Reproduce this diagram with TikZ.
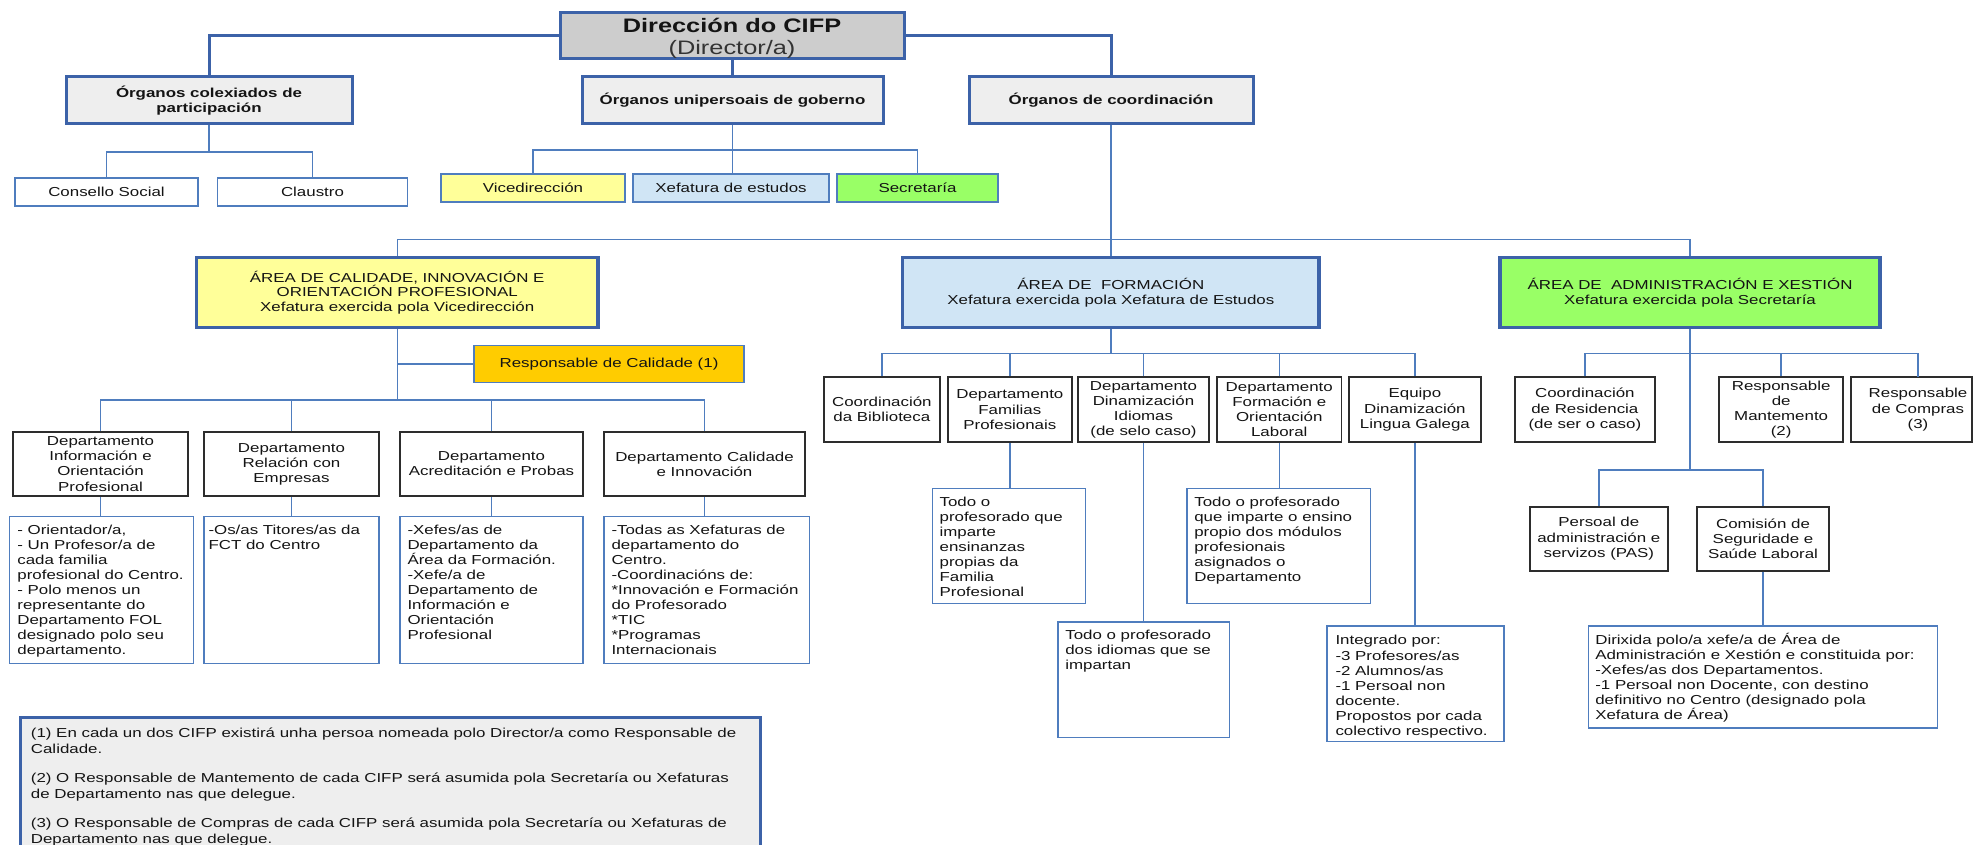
\documentclass[tikz,border=0pt]{standalone}
\usepackage{fontspec}
\setmainfont{Liberation Sans}[FakeStretch=1.3]
\usetikzlibrary{calc}
\definecolor{blueD}{RGB}{60,98,168}
\definecolor{blueL}{RGB}{79,125,190}
\definecolor{edgeK}{RGB}{45,45,45}
\definecolor{fillG}{RGB}{205,205,205}
\definecolor{fillL}{RGB}{238,238,238}
\definecolor{fillY}{RGB}{255,255,153}
\definecolor{fillB}{RGB}{208,229,245}
\definecolor{fillGr}{RGB}{153,255,102}
\definecolor{fillO}{RGB}{255,204,0}
\definecolor{txt}{RGB}{20,20,20}
\newcommand\myfs{\fontsize{13}{15.1}\selectfont}
\newcommand\mybox[7]{%
  \pgfmathsetmacro\myCX{(#3+#5)/2}%
  \pgfmathsetmacro\myCY{(#4+#6)/2}%
  \pgfmathsetmacro\myW{#5-#3}%
  \pgfmathsetmacro\myH{#6-#4}%
  \node[#2, minimum width=\myW pt, minimum height=\myH pt] (#1) at (\myCX,\myCY) {#7};%
}
\tikzset{
  every node/.style={text=txt},
  thk/.style={draw=blueD, line width=3pt},
  ln/.style={draw=blueL, line width=1.4pt},
  topbox/.style={draw=blueD, line width=3pt, inner sep=0pt, align=center},
  areabox/.style={draw=blueD, line width=3.5pt, inner sep=0pt, align=center, font=\fontsize{13}{14.7}\selectfont},
  orgbox/.style={topbox, fill=fillL, font=\fontsize{13}{14.5}\selectfont\bfseries},
  colbox/.style={draw=blueL, line width=1.4pt, inner sep=0pt, align=center, font=\myfs},
  deptbox/.style={draw=edgeK, line width=1.8pt, inner sep=0pt, align=center, font=\myfs},
  detbox/.style={draw=blueL, line width=1.4pt, inner sep=0pt},
  dettext/.style={inner sep=0pt, anchor=north west, align=left, font=\myfs},
  plain/.style={inner sep=0pt, align=center, font=\myfs},
}
\begin{document}
\begin{tikzpicture}[x=1pt,y=-1pt]
\useasboundingbox (0,0) rectangle (1973,845);
\fill[white] (0,0) rectangle (1973,845);

% ---- top level
\mybox{dir}{topbox, fill=fillG}{560}{13}{904}{59}{}
\node[plain, font=\fontsize{19.5}{21.5}\selectfont] (dirt) at ($(dir.center)+(0,2.5)$) {\textbf{Dirección do CIFP}\\{\color{black!80}(Director/a)}};
\mybox{colex}{orgbox}{66}{77}{352}{124}{Órganos colexiados de\\participación}
\mybox{unip}{orgbox}{582}{77}{883}{124}{Órganos unipersoais de goberno}
\mybox{coord}{orgbox}{969}{77}{1253}{124}{Órganos de coordinación}

\mybox{cons}{colbox}{15}{178}{198}{206}{Consello Social}
\mybox{claus}{colbox}{217.5}{178}{407.5}{206}{Claustro}
\mybox{vice}{colbox, fill=fillY}{441}{174}{625}{202}{Vicedirección}
\mybox{xef}{colbox, fill=fillB}{633}{174}{829}{202}{Xefatura de estudos}
\mybox{sec}{colbox, fill=fillGr}{837}{174}{998}{202}{Secretaría}

% ---- areas
\mybox{cal}{areabox, fill=fillY}{196.6}{257.7}{597.8}{327.3}{ÁREA DE CALIDADE, INNOVACIÓN E\\ORIENTACIÓN PROFESIONAL\\Xefatura exercida pola Vicedirección}
\mybox{form}{areabox, fill=fillB}{902.7}{257.7}{1319}{327.3}{ÁREA DE~ FORMACIÓN\\Xefatura exercida pola Xefatura de Estudos}
\mybox{adm}{areabox, fill=fillGr}{1500}{257.7}{1880}{327.3}{ÁREA DE~ ADMINISTRACIÓN E XESTIÓN\\Xefatura exercida pola Secretaría}

% ---- calidade branch
\mybox{resp}{colbox, fill=fillO}{474}{345.7}{744}{382.3}{Responsable de Calidade (1)}
\mybox{d1}{deptbox}{13}{432}{188}{496}{Departamento\\Información e\\Orientación\\Profesional}
\mybox{d2}{deptbox}{204}{432}{379}{496}{Departamento\\Relación con\\Empresas}
\mybox{d3}{deptbox}{400}{432}{583}{496}{Departamento\\Acreditación e Probas}
\mybox{d4}{deptbox}{604}{432}{805}{496}{Departamento Calidade\\e Innovación}

\mybox{e1}{detbox}{9.4}{516.7}{193.5}{663.3}{}
\mybox{e2}{detbox}{204}{516.7}{379}{663.3}{}
\mybox{e3}{detbox}{400}{516.7}{583}{663.3}{}
\mybox{e4}{detbox}{604}{516.7}{809.6}{663.3}{}
\node[dettext] (e1t) at ($(e1.north west)+(8.5,8.5)$) {- Orientador/a,\\- Un Profesor/a de\\cada familia\\profesional do Centro.\\- Polo menos un\\representante do\\Departamento FOL\\designado polo seu\\departamento.};
\node[dettext] (e2t) at ($(e2.north west)+(5,8.5)$) {-Os/as Titores/as da\\FCT do Centro};
\node[dettext] (e3t) at ($(e3.north west)+(8,8.5)$) {-Xefes/as de\\Departamento da\\Área da Formación.\\-Xefe/a de\\Departamento de\\Información e\\Orientación\\Profesional};
\node[dettext] (e4t) at ($(e4.north west)+(8,8.5)$) {-Todas as Xefaturas de\\departamento do\\Centro.\\-Coordinacións de:\\*Innovación e Formación\\do Profesorado\\*TIC\\*Programas\\Internacionais};

% ---- formación branch
\mybox{f1}{deptbox}{824}{377.3}{939.7}{442}{Coordinación\\da Biblioteca}
\mybox{f2}{deptbox}{947.8}{377.3}{1071.9}{442}{Departamento\\Familias\\Profesionais}
\mybox{f3}{deptbox}{1078}{377.3}{1209}{442}{Departamento\\Dinamización\\Idiomas\\(de selo caso)}
\mybox{f4}{deptbox}{1217}{377.3}{1341.5}{442}{Departamento\\Formación e\\Orientación\\Laboral}
\mybox{f5}{deptbox}{1349}{377.3}{1480.8}{442}{Equipo\\Dinamización\\Lingua Galega}

\mybox{g2}{detbox}{932.6}{488.7}{1085.6}{603.3}{}
\mybox{g4}{detbox}{1186.8}{488.7}{1370.3}{603.3}{}
\mybox{g3}{detbox}{1058}{622}{1229.5}{737.3}{}
\mybox{g5}{detbox}{1327}{626}{1504}{741.7}{}
\node[dettext] (g2t) at ($(g2.north west)+(7.5,8.5)$) {Todo o\\profesorado que\\imparte\\ensinanzas\\propias da\\Familia\\Profesional};
\node[dettext] (g4t) at ($(g4.north west)+(8,8.5)$) {Todo o profesorado\\que imparte o ensino\\propio dos módulos\\profesionais\\asignados o\\Departamento};
\node[dettext] (g3t) at ($(g3.north west)+(7.8,8.5)$) {Todo o profesorado\\dos idiomas que se\\impartan};
\node[dettext] (g5t) at ($(g5.north west)+(9,10)$) {Integrado por:\\-3 Profesores/as\\-2 Alumnos/as\\-1 Persoal non\\docente.\\Propostos por cada\\colectivo respectivo.};

% ---- administración branch
\mybox{a1}{deptbox}{1515}{377.3}{1654.7}{442}{Coordinación\\de Residencia\\(de ser o caso)}
\mybox{a2}{deptbox}{1719}{377.3}{1843.3}{442}{Responsable\\de\\Mantemento\\(2)}
\mybox{a3}{deptbox}{1851}{377.3}{1972}{442}{}
\node[plain] (a3t) at (1918,409.65) {Responsable\\de Compras\\(3)};
\mybox{p1}{deptbox}{1530}{506.7}{1667.7}{570.7}{Persoal de\\administración e\\servizos (PAS)}
\mybox{p2}{deptbox}{1697.3}{506.7}{1828.7}{570.7}{Comisión de\\Seguridade e\\Saúde Laboral}
\mybox{cd}{detbox}{1588.3}{626}{1937.3}{728}{}
\node[dettext, font=\fontsize{13}{14.9}\selectfont] (cdt) at ($(cd.north west)+(7.5,8)$) {Dirixida polo/a xefe/a de Área de\\Administración e Xestión e constituida por:\\-Xefes/as dos Departamentos.\\-1 Persoal non Docente, con destino\\definitivo no Centro (designado pola\\Xefatura de Área)};

% ---- notes
\mybox{notes}{draw=blueD, line width=3pt, fill=fillL, inner sep=0pt}{20}{717}{760}{880}{}
\node[dettext, font=\fontsize{13}{16.3}\selectfont] (notest) at (30.7,727.7) {(1) En cada un dos CIFP existirá unha persoa nomeada polo Director/a como Responsable de\\Calidade.\\[12.4pt](2) O Responsable de Mantemento de cada CIFP será asumida pola Secretaría ou Xefaturas\\de Departamento nas que delegue.\\[12.4pt](3) O Responsable de Compras de cada CIFP será asumida pola Secretaría ou Xefaturas de\\Departamento nas que delegue.};

% ---- connectors
\draw[thk] (dir.west) -| (colex.north);
\draw[thk] (dir.east) -| (coord.north);
\draw[thk] (dir.south) -- (dir.south |- unip.north);

\coordinate (cb) at (0,152);
\draw[ln] (colex.south) -- (colex.south |- cb);
\draw[ln] (cons.north) -- (cons.north |- cb) -- (claus.north |- cb) -- (claus.north);

\coordinate (ub) at (0,150);
\draw[ln] (unip.south) -- (unip.south |- xef.north);
\draw[ln] (vice.north) -- (vice.north |- ub) -- (sec.north |- ub) -- (sec.north);

\coordinate (mb) at (0,239.3);
\draw[ln] (coord.south) -- (coord.south |- form.north);
\draw[ln] (cal.north) -- (cal.north |- mb) -- (adm.north |- mb) -- (adm.north);

\coordinate (cbus) at (0,400);
\draw[ln] (cal.south) -- (cal.south |- cbus);
\draw[ln] (cal.south |- resp.west) -- (resp.west);
\draw[ln] (d1.north) -- (d1.north |- cbus) -- (d4.north |- cbus) -- (d4.north);
\draw[ln] (d2.north) -- (d2.north |- cbus);
\draw[ln] (d3.north) -- (d3.north |- cbus);
\foreach \a/\b in {d1/e1,d2/e2,d3/e3,d4/e4} \draw[ln] (\a.south) -- (\a.south |- \b.north);

\coordinate (fbus) at (0,353.3);
\draw[ln] (form.south) -- (form.south |- fbus);
\draw[ln] (f1.north) -- (f1.north |- fbus) -- (f5.north |- fbus) -- (f5.north);
\foreach \n in {f2,f3,f4} \draw[ln] (\n.north) -- (\n.north |- fbus);
\foreach \a/\b in {f2/g2,f3/g3,f4/g4,f5/g5} \draw[ln] (\a.south) -- (\a.south |- \b.north);

\coordinate (abus) at (0,353.3);
\coordinate (pbus) at (0,470);
\coordinate (a3c) at (1918,377.3);
\draw[ln] (adm.south) -- (adm.south |- pbus);
\draw[ln] (a1.north) -- (a1.north |- abus) -- (a3c |- abus) -- (a3c);
\draw[ln] (a2.north) -- (a2.north |- abus);
\draw[ln] (p1.north) -- (p1.north |- pbus) -- (p2.north |- pbus) -- (p2.north);
\draw[ln] (p2.south) -- (p2.south |- cd.north);
\end{tikzpicture}
\end{document}
